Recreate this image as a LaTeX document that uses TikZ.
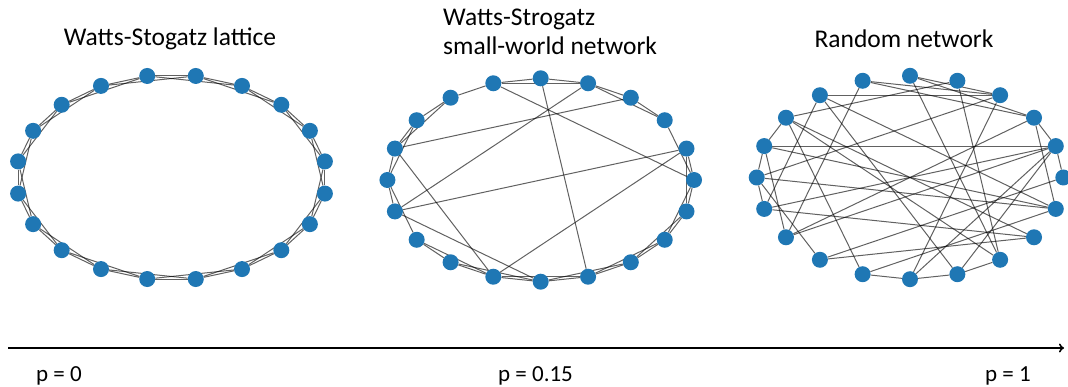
\documentclass[tikz,border=0pt]{standalone}
\usepackage{fontspec}
\setmainfont{Carlito}
\usetikzlibrary{arrows.meta,backgrounds}
\definecolor{nodeblue}{HTML}{1F77B4}
\begin{document}
\begin{tikzpicture}[x=1pt,y=-1pt,
  dot/.style={circle,fill=nodeblue,inner sep=0pt,minimum size=16pt},
  link/.style={draw=black,draw opacity=0.62,line width=1pt},
  title/.style={font=\fontsize{25.5}{29}\selectfont,inner sep=0pt},
  plabel/.style={font=\fontsize{23}{26}\selectfont,inner sep=0pt},
  axis/.style={line width=1.6pt,-{To[length=5pt,width=9pt]}}]
\useasboundingbox (0,0) rectangle (1068,387);

% ring lattice, p = 0
\foreach \k in {0,...,19}
  \node[dot] (L\k) at ({171.5+155.3*cos(9+18*\k)},{177.5-102.8*sin(9+18*\k)}) {};
% small-world network, p = 0.15
\foreach \k in {0,...,19}
  \node[dot] (M\k) at ({540.7+153.3*cos(18*\k)},{180-101.7*sin(18*\k)}) {};
% random network, p = 1
\foreach \k in {0,...,19}
  \node[dot] (R\k) at ({910+153.3*cos(18*\k)},{177.5-101.7*sin(18*\k)}) {};

\begin{pgfonlayer}{background}
  \foreach \k [evaluate=\k as \a using {int(mod(\k+1,20))},
               evaluate=\k as \b using {int(mod(\k+2,20))}] in {0,...,19} {
    \draw[link] (L\k) -- (L\a);
    \draw[link] (L\k) -- (L\b);
  }
  \foreach \u/\v in {0/1,0/2,2/3,2/4,3/4,4/5,4/6,5/6,6/7,7/8,7/9,8/9,8/10,9/10,
      10/11,10/12,12/13,12/14,13/14,13/15,14/15,14/16,15/16,15/17,16/17,16/18,
      17/18,17/19,18/19,18/0,19/0,19/1,
      6/0,5/16,4/11,3/9,1/11,1/14,9/14,11/15}
    \draw[link] (M\u) -- (M\v);
  \foreach \u/\v in {6/3,6/12,6/2,5/2,5/17,5/3,4/8,4/17,7/3,7/11,7/19,7/16,
      8/18,8/14,8/17,8/9,9/1,9/19,9/12,9/10,10/3,10/19,10/11,10/13,
      11/18,11/1,12/2,12/1,13/18,13/0,14/15,14/19,15/3,15/1,16/17,16/15,
      16/1,1/0,2/19,2/1}
    \draw[link] (R\u) -- (R\v);
\end{pgfonlayer}

% titles
\node[title] (t1) at (170,39) {Watts-Stogatz lattice};
\node[title,align=left,anchor=north west] (t2) at (443,9) {Watts-Strogatz\\small-world network};
\node[title] (t3) at (904,39) {Random network};

% axis of the rewiring probability
\coordinate (axStart) at (8,348);
\coordinate (axEnd) at (1064,348);
\draw[axis] (axStart) -- (axEnd);
\node[plabel,anchor=west] (p0) at (36,376) {p = 0};
\node[plabel,anchor=west] (p1) at (498,376) {p = 0.15};
\node[plabel,anchor=west] (p2) at (985,376) {p = 1};
\end{tikzpicture}
\end{document}
